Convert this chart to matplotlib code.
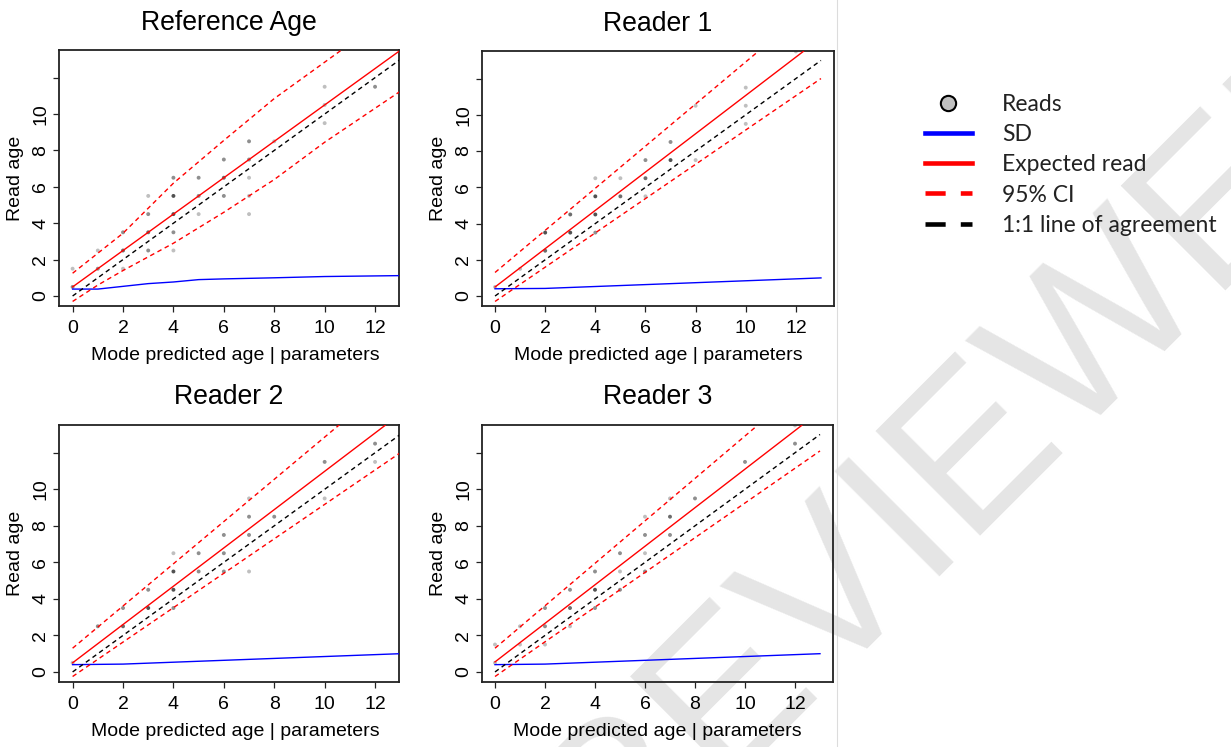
import matplotlib
matplotlib.use("Agg")
from matplotlib import pyplot as plt
from matplotlib.lines import Line2D

plt.rcParams['font.family'] = ['Liberation Sans', 'DejaVu Sans']

titles = ['Reference Age', 'Reader 1', 'Reader 2', 'Reader 3']

# reads: mode predicted age, read age, number of overlapping reads
ref_x = [0, 0, 1, 1, 2, 2, 2, 3, 3, 3, 3, 4, 4, 4, 4, 4, 5, 5, 5, 6, 6, 6, 7, 7, 7, 7, 7, 8, 10, 10, 10, 12]
ref_y = [1.5, 0.5, 2.5, 1.5, 3.5, 2.5, 1.5, 5.5, 4.5, 3.5, 2.5, 6.5, 5.5, 4.5, 3.5, 2.5, 6.5, 5.5, 4.5,
         7.5, 6.5, 5.5, 8.5, 7.5, 6.5, 5.5, 4.5, 8.5, 11.5, 10.5, 9.5, 11.5]
ref_n = [1, 2, 1, 2, 2, 3, 1, 1, 2, 3, 2, 2, 4, 4, 2, 1, 2, 2, 1, 2, 3, 2, 2, 2, 1, 1, 1, 1, 1, 1, 1, 2]

r1_x = [0, 1, 2, 2, 3, 3, 4, 4, 4, 4, 5, 5, 6, 6, 6, 7, 7, 8, 8, 10, 10, 10, 12]
r1_y = [0.5, 1.5, 3.5, 2.5, 4.5, 3.5, 6.5, 5.5, 4.5, 3.5, 6.5, 5.5, 7.5, 6.5, 5.5, 8.5, 7.5, 7.5, 10.5,
        11.5, 10.5, 9.5, 13.5]
r1_n = [1, 1, 4, 3, 3, 4, 1, 4, 4, 2, 1, 3, 2, 3, 1, 2, 4, 1, 1, 1, 1, 1, 1]

r2_x = [0, 1, 2, 2, 3, 3, 4, 4, 4, 4, 5, 5, 6, 6, 6, 7, 7, 7, 7, 8, 10, 10, 12, 12]
r2_y = [0.5, 2.5, 3.5, 2.5, 4.5, 3.5, 6.5, 5.5, 4.5, 3.5, 6.5, 5.5, 7.5, 6.5, 5.5, 9.5, 8.5, 7.5, 5.5,
        8.5, 11.5, 9.5, 12.5, 11.5]
r2_n = [1, 2, 2, 3, 2, 4, 1, 4, 4, 2, 2, 2, 2, 2, 2, 1, 2, 2, 1, 2, 2, 1, 2, 1]

r3_x = [0, 0, 1, 1, 2, 2, 2, 3, 3, 3, 4, 4, 4, 5, 5, 5, 6, 6, 6, 6, 7, 7, 7, 8, 10, 12, 12]
r3_y = [1.5, 0.5, 2.5, 1.5, 3.5, 2.5, 1.5, 4.5, 3.5, 2.5, 5.5, 4.5, 3.5, 6.5, 5.5, 4.5, 8.5, 7.5, 6.5, 5.5,
        9.5, 8.5, 7.5, 9.5, 11.5, 12.5, 13.5]
r3_n = [1, 1, 1, 1, 2, 2, 1, 2, 3, 1, 2, 4, 2, 2, 1, 2, 1, 2, 1, 2, 1, 3, 2, 2, 2, 2, 1]

# 1:1 line of agreement
one_x = [0, 13]
one_y = [0, 13]

# expected read
ref_exp_x, ref_exp_y = [0, 13], [0.5, 13.5]
r1_exp_x, r1_exp_y = [0, 12.3], [0.5, 13.5]
r2_exp_x, r2_exp_y = [0, 12.4], [0.5, 13.5]
r3_exp_x, r3_exp_y = [0, 12.27], [0.55, 13.5]

# 95% CI, upper and lower
ref_up_x, ref_up_y = [0, 2, 4, 6, 8, 10.7], [1.25, 3.45, 6.2, 8.55, 10.85, 13.55]
ref_lo_x = [0, 1, 2, 4, 6, 7, 8, 10, 13]
ref_lo_y = [-0.3, 0.6, 1.4, 2.9, 4.6, 5.5, 6.4, 8.45, 11.25]
r1_up_x, r1_up_y = [0, 10.5], [1.3, 13.5]
r1_lo_x, r1_lo_y = [0, 13], [-0.3, 12.0]
r2_up_x, r2_up_y = [0, 10.6], [1.3, 13.55]
r2_lo_x, r2_lo_y = [0, 13], [-0.25, 12.0]
r3_up_x, r3_up_y = [0, 10.5], [1.3, 13.5]
r3_lo_x, r3_lo_y = [0, 13], [-0.25, 12.1]

# SD of reads
ref_sd_x = [0, 1, 2, 3, 4, 5, 6, 8, 10, 13]
ref_sd_y = [0.38, 0.38, 0.53, 0.68, 0.77, 0.9, 0.94, 1.0, 1.07, 1.12]
r1_sd_x, r1_sd_y = [0, 2, 13], [0.4, 0.42, 1.0]
r2_sd_x, r2_sd_y = [0, 2, 13], [0.4, 0.43, 1.0]
r3_sd_x, r3_sd_y = [0, 2, 13], [0.4, 0.43, 1.0]

x_ticks = [0, 2, 4, 6, 8, 10, 12]
y_ticks = [0, 2, 4, 6, 8, 10, 12]
y_tick_labels = ['0', '2', '4', '6', '8', '10', '']

panels = [
    (ref_x, ref_y, ref_n, ref_exp_x, ref_exp_y, ref_up_x, ref_up_y, ref_lo_x, ref_lo_y, ref_sd_x, ref_sd_y),
    (r1_x, r1_y, r1_n, r1_exp_x, r1_exp_y, r1_up_x, r1_up_y, r1_lo_x, r1_lo_y, r1_sd_x, r1_sd_y),
    (r2_x, r2_y, r2_n, r2_exp_x, r2_exp_y, r2_up_x, r2_up_y, r2_lo_x, r2_lo_y, r2_sd_x, r2_sd_y),
    (r3_x, r3_y, r3_n, r3_exp_x, r3_exp_y, r3_up_x, r3_up_y, r3_lo_x, r3_lo_y, r3_sd_x, r3_sd_y),
]

W, H = 1231, 747
fig = plt.figure(figsize=(W / 100, H / 100), dpi=100)

# watermark behind everything
fig.text(610 / W, 1 - 906 / H, 'NOT PEER REVIEWED', rotation=45, rotation_mode='anchor',
         fontsize=155, color='#e5e5e5', ha='center', va='baseline', zorder=-5,
         family='Liberation Sans')

# axes boxes in pixels: left, top, right, bottom
boxes = [(59, 50, 399, 306), (482, 51, 834, 306), (59, 425, 399, 682), (482, 425, 833, 682)]
xlims = [(-0.54, 12.95), (-0.52, 13.52), (-0.54, 12.95), (-0.52, 13.52)]
# left panels are cropped on the right, so their x label sits a bit right of centre
xlabel_x = [0.519, 0.5, 0.519, 0.5]
title_pad = [14.5, 14.5, 15, 15]

dash = (3.3, 2.6)
for i, (px, py, pn, ex, ey, ux, uy, lx, ly, sx, sy) in enumerate(panels):
    l, t, r, b = boxes[i]
    ax = fig.add_axes([l / W, 1 - b / H, (r - l) / W, (b - t) / H])
    ax.set_facecolor('none')

    cols = [(0, 0, 0, 1 - 0.75 ** n) for n in pn]
    ax.scatter(px, py, s=8, c=cols, linewidths=0, zorder=2)
    ax.plot(sx, sy, color='#0000ff', lw=1.0, zorder=3)
    ax.plot(one_x, one_y, color='black', lw=1.0, dashes=dash, zorder=3)
    ax.plot(ex, ey, color='#ff0000', lw=1.0, zorder=4)
    ax.plot(ux, uy, color='#ff0000', lw=1.0, dashes=dash, zorder=4)
    ax.plot(lx, ly, color='#ff0000', lw=1.0, dashes=dash, zorder=4)

    ax.set_xlim(*xlims[i])
    ax.set_ylim(-0.55, 13.52)
    ax.set_xticks(x_ticks)
    ax.set_yticks(y_ticks)
    ax.set_yticklabels(y_tick_labels, rotation=90, va='center')
    ax.tick_params(direction='out', length=4.5, width=0.9, labelsize=14, color='#222222')
    ax.tick_params(axis='x', pad=5.5)
    ax.tick_params(axis='y', pad=2.5)
    for sp in ax.spines.values():
        sp.set_linewidth(1.3)
        sp.set_color('#222222')
    ax.set_xlabel('Mode predicted age | parameters', fontsize=14, labelpad=7)
    ax.xaxis.label.set_x(xlabel_x[i])
    ax.set_ylabel('Read age', fontsize=14, labelpad=6)
    ax.set_title(titles[i], fontsize=19.2, pad=title_pad[i])

# image edge line
fig.add_artist(Line2D([836.5 / W, 836.5 / W], [0, 1], transform=fig.transFigure,
                      color='#dcdcdc', lw=0.8))

handles = [
    Line2D([], [], ls='none', marker='o', markersize=11, markerfacecolor='#c0c0c0',
           markeredgecolor='black', markeredgewidth=1.5),
    Line2D([], [], color='#0000ff', lw=3.3),
    Line2D([], [], color='#ff0000', lw=3.3),
    Line2D([], [], color='#ff0000', lw=3.3, dashes=(4.4, 3.3)),
    Line2D([], [], color='black', lw=3.3, dashes=(4.4, 3.3)),
]
labels = ['Reads', 'SD', 'Expected read', '95% CI', '1:1 line of agreement']
leg = fig.legend(handles, labels, loc='upper left', bbox_to_anchor=(925 / W, 1 - 94 / H),
                 frameon=False, borderpad=0, borderaxespad=0, handlelength=2.05,
                 handletextpad=1.31, labelspacing=0.4, prop={'family': 'Lato', 'size': 16.5})
for txt in leg.get_texts():
    txt.set_color('#222222')

fig.savefig('out.png', dpi=100)
